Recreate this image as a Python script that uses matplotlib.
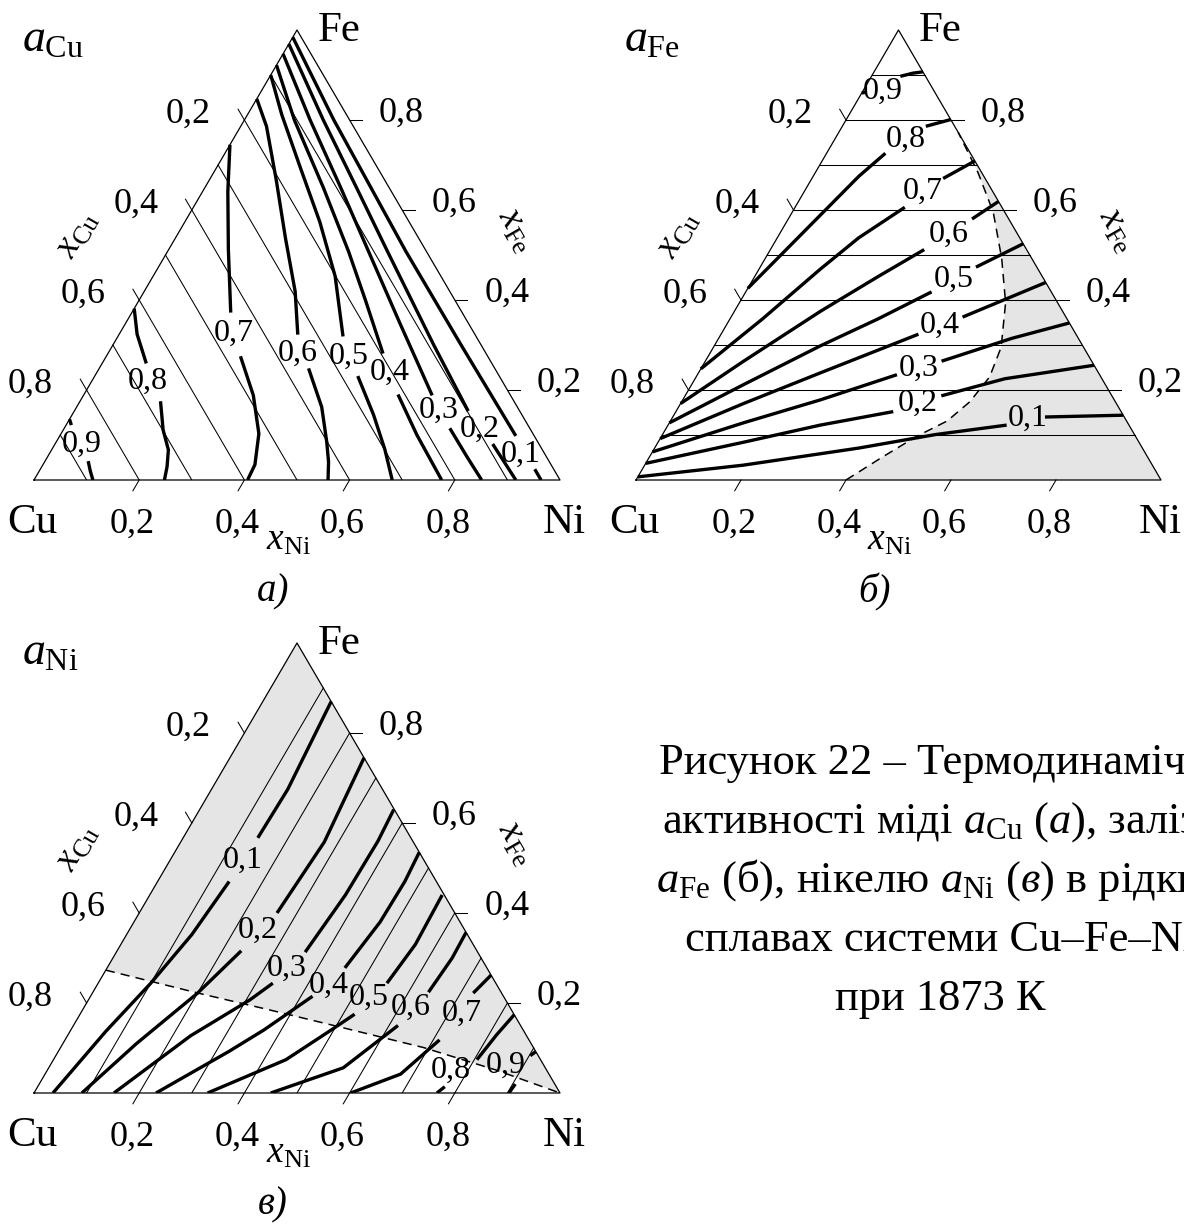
import matplotlib
matplotlib.use('Agg')
import matplotlib.pyplot as plt
import numpy as np

plt.rcParams['font.family'] = 'Liberation Serif'
plt.rcParams['mathtext.fontset'] = 'custom'
plt.rcParams['mathtext.rm'] = 'Liberation Serif'
plt.rcParams['mathtext.it'] = 'Liberation Serif:italic'

# ============ DATA: compositions (x_Ni, x_Fe), lines split where the label sits ============
TICKS = [0.2, 0.4, 0.6, 0.8]
GRID = [0.1, 0.2, 0.3, 0.4, 0.5, 0.6, 0.7, 0.8, 0.9]

# a_Cu
CU_LEVELS = [0.9, 0.8, 0.7, 0.6, 0.5, 0.4, 0.3, 0.2, 0.1]
CU_LINES = [
    [[(0.0, 0.135), (0.010, 0.122)], [(0.082, 0.042), (0.097, 0.020), (0.112, 0.0)]],
    [[(0.0, 0.381), (0.034, 0.324), (0.084, 0.259)],
     [(0.153, 0.175), (0.190, 0.111), (0.222, 0.067), (0.238, 0.030), (0.248, 0.0)]],
    [[(0.0, 0.745), (0.048, 0.641), (0.113, 0.513), (0.188, 0.372)],
     [(0.255, 0.275), (0.323, 0.188), (0.376, 0.103), (0.403, 0.034), (0.406, 0.0)]],
    [[(0.0, 0.847), (0.049, 0.786), (0.127, 0.667), (0.209, 0.538), (0.287, 0.419), (0.340, 0.323)],
     [(0.398, 0.248), (0.466, 0.162), (0.514, 0.085), (0.540, 0.040), (0.559, 0.0)]],
    [[(0.0, 0.900), (0.065, 0.812), (0.161, 0.692), (0.257, 0.573), (0.346, 0.453), (0.428, 0.319)],
     [(0.500, 0.231), (0.573, 0.145), (0.633, 0.068), (0.681, 0.0)]],
    [[(0.0, 0.922), (0.095, 0.800), (0.225, 0.650), (0.344, 0.508), (0.430, 0.400), (0.523, 0.281)],
     [(0.597, 0.190), (0.678, 0.100), (0.775, 0.0)]],
    [[(0.0, 0.947), (0.125, 0.800), (0.258, 0.650), (0.382, 0.508), (0.520, 0.350), (0.663, 0.188)],
     [(0.733, 0.115), (0.799, 0.050), (0.851, 0.0)]],
    [[(0.0, 0.969), (0.150, 0.800), (0.288, 0.650), (0.418, 0.508), (0.610, 0.300), (0.749, 0.153)],
     [(0.832, 0.080), (0.916, 0.0)]],
    [[(0.0, 0.984), (0.170, 0.800), (0.453, 0.508), (0.662, 0.300), (0.867, 0.098)],
     [(0.940, 0.024), (0.964, 0.0)]],
]
CU_LABEL_POS = [(0.050, 0.080), (0.107, 0.220), (0.216, 0.326), (0.360, 0.282), (0.461, 0.275),
                (0.556, 0.240), (0.692, 0.155), (0.792, 0.112), (0.897, 0.058)]

# a_Fe
FE_LEVELS = [0.9, 0.8, 0.7, 0.6, 0.5, 0.4, 0.3, 0.2, 0.1]
FE_LINES = [
    [[(0.0, 0.860), (0.008, 0.862)], [(0.055, 0.897), (0.075, 0.904), (0.093, 0.907)]],
    [[(0.0, 0.426), (0.027, 0.503), (0.057, 0.589), (0.087, 0.675), (0.112, 0.726)],
     [(0.159, 0.786), (0.199, 0.801)]],
    [[(0.0, 0.247), (0.062, 0.358), (0.117, 0.469), (0.155, 0.538), (0.209, 0.606)],
     [(0.250, 0.670), (0.291, 0.709)]],
    [[(0.0, 0.170), (0.073, 0.264), (0.164, 0.375), (0.235, 0.452), (0.293, 0.512)],
     [(0.350, 0.580), (0.381, 0.619)]],
    [[(0.0, 0.127), (0.099, 0.212), (0.202, 0.298), (0.282, 0.358), (0.354, 0.418)],
     [(0.411, 0.473), (0.475, 0.525)]],
    [[(0.0, 0.092), (0.120, 0.170), (0.232, 0.238), (0.376, 0.324)],
     [(0.441, 0.362), (0.561, 0.439)]],
    [[(0.0, 0.0625), (0.141, 0.127), (0.262, 0.178), (0.380, 0.234)],
     [(0.450, 0.264), (0.559, 0.315), (0.651, 0.349)]],
    [[(0.0, 0.037), (0.163, 0.084), (0.290, 0.122), (0.414, 0.152)],
     [(0.488, 0.187), (0.590, 0.225), (0.745, 0.255)]],
    [[(0.0, 0.007), (0.188, 0.033), (0.389, 0.071), (0.520, 0.101), (0.645, 0.122)],
     [(0.709, 0.140), (0.856, 0.144)]],
]
FE_LABEL_POS = [(0.038, 0.863), (0.136, 0.756), (0.226, 0.641), (0.322, 0.546), (0.383, 0.446),
                (0.408, 0.343), (0.415, 0.249), (0.451, 0.170), (0.677, 0.138)]
FE_BOUNDARY = [(0.400, 0.0), (0.443, 0.050), (0.486, 0.097), (0.527, 0.131), (0.549, 0.174),
               (0.559, 0.229), (0.548, 0.295), (0.507, 0.394), (0.450, 0.493), (0.383, 0.595),
               (0.310, 0.683), (0.227, 0.773)]

# a_Ni
NI_LEVELS = [0.1, 0.2, 0.3, 0.4, 0.5, 0.6, 0.7, 0.8, 0.9]
NI_LINES = [
    [[(0.036, 0.0), (0.068, 0.137), (0.100, 0.244), (0.124, 0.352), (0.136, 0.470)],
     [(0.142, 0.567), (0.145, 0.675), (0.130, 0.870)]],
    [[(0.091, 0.0), (0.140, 0.110), (0.200, 0.222), (0.236, 0.316)],
     [(0.262, 0.400), (0.273, 0.558), (0.255, 0.745)]],
    [[(0.152, 0.0), (0.234, 0.127), (0.307, 0.207), (0.332, 0.244)],
     [(0.359, 0.313), (0.372, 0.440), (0.374, 0.560), (0.369, 0.630)]],
    [[(0.232, 0.0), (0.324, 0.092), (0.367, 0.140), (0.422, 0.215)],
     [(0.452, 0.278), (0.468, 0.380), (0.470, 0.470), (0.465, 0.535)]],
    [[(0.330, 0.0), (0.442, 0.074), (0.495, 0.140), (0.522, 0.175)],
     [(0.549, 0.244), (0.560, 0.330), (0.556, 0.440)]],
    [[(0.450, 0.0), (0.560, 0.056), (0.617, 0.150)],
     [(0.638, 0.224), (0.645, 0.300), (0.643, 0.357)]],
    [[(0.602, 0.0), (0.676, 0.042), (0.712, 0.118)],
     [(0.724, 0.222), (0.738, 0.262)]],
    [[(0.766, 0.0), (0.774, 0.014)],
     [(0.805, 0.074), (0.815, 0.130), (0.826, 0.174)]],
    [[(0.903, 0.0), (0.905, 0.020)],
     [(0.902, 0.083), (0.908, 0.092)]],
]
NI_LABEL_POS = [(0.138, 0.518), (0.245, 0.362), (0.342, 0.278), (0.440, 0.240), (0.530, 0.212),
                (0.622, 0.190), (0.726, 0.176), (0.768, 0.050), (0.865, 0.062)]
NI_BOUNDARY = [(0.0, 0.273), (0.201, 0.222), (0.350, 0.186), (0.515, 0.145), (0.690, 0.101),
               (0.853, 0.051), (1.0, 0.0)]

CAPTION = ["Рисунок 22 – Термодинамічні",
           r"активності міді $a_{\mathrm{Cu}}$ ($a$), заліза",
           r"$a_{\mathrm{Fe}}$ (б), нікелю $a_{\mathrm{Ni}}$ ($в$) в рідких",
           "сплавах системи Cu–Fe–Ni",
           "при 1873 К"]

# ============ HELPERS ============
W, H = 1184, 1230
fig = plt.figure(figsize=(W / 100, H / 100), dpi=100)
GRAY = '#e5e5e5'
TK = 0.024  # tick length, fraction of side


def tern(pts):
    a = np.asarray(pts, float)
    return a[:, 0] + a[:, 1] / 2, a[:, 1]


def fmt(v):
    return f'{v:.1f}'.replace('.', ',')


def put(ax, xy, dx, dy, s, **kw):
    # offset given in pixels, dy positive downwards
    ax.annotate(s, xy=xy, xytext=(dx * 0.72, -dy * 0.72), textcoords='offset points',
                annotation_clip=False, **kw)


def panel(x0, base, w, h, name, letter, grid, lines, levels, label_pos, shade=None, ni_dx=4):
    ax = fig.add_axes([x0 / W, 1 - base / H, w / W, h / H])
    ax.set_xlim(0, 1); ax.set_ylim(0, 1); ax.axis('off')

    if shade is not None:
        X, Y = tern(shade)
        ax.fill(X, Y, color=GRAY, lw=0, zorder=0)

    # thin composition grid
    for c in GRID:
        if grid == 'Cu':
            seg = [(0, 1 - c), (1 - c, 0)]
        elif grid == 'Fe':
            seg = [(0, c), (1 - c, c)]
        else:
            seg = [(c, 0), (c, 1 - c)]
        X, Y = tern(seg)
        ax.plot(X, Y, color='k', lw=0.75, zorder=1)

    ax.plot([0, 1, 0.5, 0], [0, 0, 1, 0], color='k', lw=0.9, zorder=2, clip_on=False)

    # ticks and tick labels on three sides
    for c in TICKS:
        X, Y = tern([(0, 1 - c), (-TK, 1 - c + TK)])
        ax.plot(X, Y, color='k', lw=0.75, clip_on=False)
        put(ax, (0.5 * (1 - c), 1 - c), -56, 3, fmt(c), ha='center', va='baseline', fontsize=26)
        X, Y = tern([(c, 0), (c, -TK)])
        ax.plot(X, Y, color='k', lw=0.75, clip_on=False)
        put(ax, (c, 0), -7, 53, fmt(c), ha='center', va='baseline', fontsize=26)
        X, Y = tern([(1 - c, c), (1 - c + TK, c)])
        ax.plot(X, Y, color='k', lw=0.75, clip_on=False)
        put(ax, (1 - c / 2, c), 52, 2, fmt(c), ha='center', va='baseline', fontsize=26)

    for segs in lines:
        for seg in segs:
            X, Y = tern(seg)
            ax.plot(X, Y, color='k', lw=2.4, solid_capstyle='butt', solid_joinstyle='round', zorder=3)
    for lev, pos in zip(levels, label_pos):
        X, Y = tern([pos])
        ax.text(X[0], Y[0], fmt(lev), ha='center', va='center', fontsize=23, zorder=4)

    put(ax, (0, 0), -2, 53, 'Cu', ha='center', va='baseline', fontsize=31)
    put(ax, (1, 0), ni_dx, 53, 'Ni', ha='center', va='baseline', fontsize=31)
    put(ax, (0.5, 1), 42, 11, 'Fe', ha='center', va='baseline', fontsize=31)
    put(ax, (0, 1), -12, 22, name, ha='left', va='baseline', fontsize=33)
    put(ax, (0.25, 0.5), -89, -21, r'$x_{\mathrm{Cu}}$', ha='center', va='center',
        rotation=60, rotation_mode='anchor', fontsize=27)
    put(ax, (0.75, 0.5), 88, -25, r'$x_{\mathrm{Fe}}$', ha='center', va='center',
        rotation=-60, rotation_mode='anchor', fontsize=27)
    put(ax, (0.5, 0), -9, 70, r'$x_{\mathrm{Ni}}$', ha='center', va='baseline', fontsize=27)
    put(ax, (0.5, 0), -24, 112, letter, ha='center', va='center', fontsize=28, style='italic')
    return ax


panel(34, 480, 526, 450, r'$a_{\mathrm{Cu}}$', 'а)', 'Cu', CU_LINES, CU_LEVELS, CU_LABEL_POS)
ax_b = panel(636, 480, 525, 450, r'$a_{\mathrm{Fe}}$', 'б)', 'Fe', FE_LINES, FE_LEVELS, FE_LABEL_POS,
             shade=FE_BOUNDARY + [(1.0, 0.0)], ni_dx=-1)
X, Y = tern(FE_BOUNDARY)
ax_b.plot(X, Y, color='k', lw=1.1, dashes=(6, 4), zorder=2)
ax_c = panel(34, 1093, 526, 450, r'$a_{\mathrm{Ni}}$', 'в)', 'Ni', NI_LINES, NI_LEVELS, NI_LABEL_POS,
             shade=NI_BOUNDARY + [(0.0, 1.0)])
X, Y = tern(NI_BOUNDARY)
ax_c.plot(X, Y, color='k', lw=1.1, dashes=(6, 4), zorder=2)

for i, line in enumerate(CAPTION):
    fig.text(940 / W, 1 - (774 + 59 * i) / H, line, ha='center', va='baseline', fontsize=32)

fig.savefig('out.png', dpi=100)
